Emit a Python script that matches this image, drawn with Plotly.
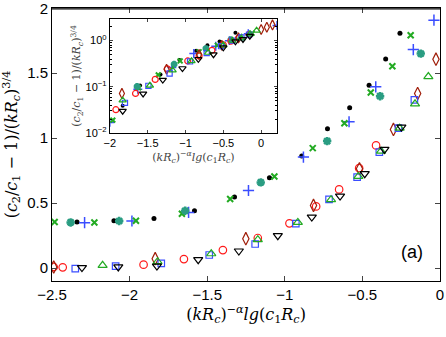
import plotly.graph_objects as go

# ==== main panel: x = (kRc)^-alpha lg(c1 Rc), y = (c2/c1 - 1)/(kRc)^(3/4) ====
dot_x = [-2.339, -2.101, -1.843, -1.582, -1.324, -1.099, -0.891, -0.725, -0.582, -0.457, -0.350, -0.258]
dot_y = [0.354, 0.364, 0.382, 0.441, 0.546, 0.695, 0.862, 1.072, 1.233, 1.408, 1.610, 1.808]

plus_x = [-2.290, -1.985, -1.620, -1.234, -0.880, -0.586, -0.414, -0.172, -0.039]
plus_y = [0.349, 0.362, 0.428, 0.597, 0.854, 1.126, 1.395, 1.682, 1.908]

cross_x = [-2.483, -2.227, -1.959, -1.663, -1.352, -1.067, -0.820, -0.616, -0.446, -0.307, -0.189]
cross_y = [0.354, 0.351, 0.364, 0.418, 0.531, 0.705, 0.923, 1.115, 1.351, 1.554, 1.792]

star_x = [-2.380, -2.067, -1.642, -1.155, -0.727, -0.386, -0.124]
star_y = [0.351, 0.362, 0.441, 0.659, 0.977, 1.323, 1.651]

circ_x = [-2.489, -2.431, -1.910, -1.650, -1.399, -1.174, -0.970, -0.798, -0.650, -0.521, -0.412]
circ_y = [0.008, 0.005, 0.026, 0.069, 0.138, 0.231, 0.344, 0.474, 0.605, 0.769, 0.944]

diam_x = [-2.489, -1.835, -1.251, -0.815, -0.519, -0.300, -0.144, -0.026]
diam_y = [0.008, 0.072, 0.226, 0.482, 0.764, 1.067, 1.344, 1.608]

sq_x = [-2.350, -2.090, -1.796, -1.487, -1.191, -0.929, -0.715, -0.534, -0.391, -0.268, -0.165]
sq_y = [-0.005, 0.015, 0.036, 0.100, 0.185, 0.341, 0.528, 0.700, 0.892, 1.077, 1.295]

tri_x = [-2.174, -1.820, -1.474, -1.174, -0.916, -0.702, -0.526, -0.380, -0.260, -0.161, -0.075]
tri_y = [0.021, 0.049, 0.110, 0.218, 0.351, 0.526, 0.705, 0.900, 1.077, 1.264, 1.474]

dtri_x = [-2.307, -2.073, -1.824, -1.558, -1.296, -1.045, -0.826, -0.644, -0.485, -0.358, -0.249]
dtri_y = [0.003, 0.008, 0.015, 0.064, 0.131, 0.249, 0.392, 0.554, 0.726, 0.913, 1.085]

# ==== inset (log y) ====
in_dot_x = [-1.83, -1.60, -1.33, -1.08, -0.86, -0.71, -0.55, -0.34, -0.18]
in_dot_y = [0.039, 0.107, 0.186, 0.380, 0.603, 0.794, 0.955, 1.479, 1.413]

in_plus_x = [-2.00, -1.63, -1.18, -0.89, -0.60, -0.42, -0.17, 0.21]
in_plus_y = [0.017, 0.089, 0.263, 0.525, 0.759, 1.000, 1.413, 2.138]

in_cross_x = [-1.96, -1.62, -1.36, -1.07, -0.82, -0.58, -0.28, -0.12]
in_cross_y = [0.019, 0.095, 0.182, 0.363, 0.575, 0.794, 1.230, 1.445]

in_star_x = [-1.64, -1.15, -0.73, -0.40, -0.15]
in_star_y = [0.102, 0.309, 0.676, 1.047, 1.380]

in_circ_x = [-1.92, -1.66, -1.40, -1.24, -0.97, -0.82, -0.65, -0.50, -0.40, -0.30, -0.16]
in_circ_y = [0.032, 0.072, 0.145, 0.245, 0.363, 0.468, 0.617, 0.813, 0.977, 1.122, 1.349]

in_diam_x = [-1.84, -1.25, -0.82, -0.52, -0.30, 0.00, 0.075, 0.15]
in_diam_y = [0.072, 0.240, 0.501, 0.794, 1.148, 1.738, 1.950, 2.188]

in_sq_x = [-1.80, -1.49, -1.21, -0.94, -0.72, -0.53, -0.38, -0.26, -0.16]
in_sq_y = [0.045, 0.105, 0.195, 0.355, 0.537, 0.759, 1.000, 1.175, 1.349]

in_tri_x = [-1.83, -1.47, -1.17, -0.92, -0.70, -0.50, -0.38, -0.26, -0.15, -0.06]
in_tri_y = [0.051, 0.107, 0.229, 0.363, 0.550, 0.794, 1.000, 1.122, 1.380, 1.660]

in_dtri_x = [-1.83, -1.56, -1.30, -1.04, -0.83, -0.63, -0.50, -0.34, -0.24, -0.15]
in_dtri_y = [0.030, 0.071, 0.141, 0.251, 0.398, 0.501, 0.708, 0.955, 1.072, 1.259]

RED = "#ff1a1a"
BROWN = "#a01e0a"
BLUE = "#3a4dff"
GREEN = "#22aa22"
TEAL = "#2a9d82"
BLACK = "#000000"

styles = [
    ("dot", dot_x, dot_y, in_dot_x, in_dot_y, "circle", BLACK, 5, 0),
    ("plus", plus_x, plus_y, in_plus_x, in_plus_y, "cross-thin-open", BLUE, 8, 1.5),
    ("cross", cross_x, cross_y, in_cross_x, in_cross_y, "x-thin-open", GREEN, 6, 2),
    ("star", star_x, star_y, in_star_x, in_star_y, "asterisk-open", TEAL, 7, 2.5),
    ("circ", circ_x, circ_y, in_circ_x, in_circ_y, "circle-open", RED, 7.5, 1.2),
    ("diam", diam_x, diam_y, in_diam_x, in_diam_y, "diamond-tall-open", BROWN, 9, 1.2),
    ("sq", sq_x, sq_y, in_sq_x, in_sq_y, "square-open", BLUE, 6.5, 1.2),
    ("tri", tri_x, tri_y, in_tri_x, in_tri_y, "triangle-up-open", GREEN, 8, 1.2),
    ("dtri", dtri_x, dtri_y, in_dtri_x, in_dtri_y, "triangle-down-open", BLACK, 8, 1.2),
]

fig = go.Figure()

for name, x, y, ix, iy, sym, col, size, lw in styles:
    fig.add_trace(go.Scatter(
        x=x, y=y, mode="markers", name=name, showlegend=False,
        marker=dict(symbol=sym, color=col, size=size, line=dict(color=col, width=lw)),
        xaxis="x", yaxis="y"))
    fig.add_trace(go.Scatter(
        x=ix, y=iy, mode="markers", name=name, showlegend=False,
        marker=dict(symbol=sym, color=col, size=size * 0.8, line=dict(color=col, width=lw)),
        xaxis="x2", yaxis="y2"))

axis_common = dict(showline=True, linecolor="black", linewidth=1, mirror="ticks",
                   ticks="inside", showgrid=False, zeroline=False, automargin=False,
                   ticklabeloverflow="allow")

xlabel = "(<i>kR<sub>c</sub></i>)<sup>\u2212<i>\u03b1</i></sup><i>lg</i>(<i>c</i><sub>1</sub><i>R<sub>c</sub></i>)"
ylabel = "(<i>c</i><sub>2</sub>/<i>c</i><sub>1</sub> \u2212 1)/(<i>kR<sub>c</sub></i>)<sup>3/4</sup>"

fig.update_layout(
    width=446, height=337,
    margin=dict(l=52, r=6, t=8, b=56),
    paper_bgcolor="white", plot_bgcolor="white",
    font=dict(family="Liberation Sans, Arial, sans-serif", color="black"),
    xaxis=dict(domain=[0, 1], range=[-2.5, 0], tickvals=[-2.5, -2, -1.5, -1, -0.5, 0],
               ticktext=["\u22122.5", "\u22122", "\u22121.5", "\u22121", "\u22120.5", "0"],
               ticklen=5, tickfont=dict(size=15),
               title=dict(text=xlabel, font=dict(family="DejaVu Serif, serif", size=16), standoff=3),
               **axis_common),
    yaxis=dict(domain=[0, 1], range=[-0.1, 2.002], tickvals=[0, 0.5, 1, 1.5, 2],
               ticktext=["0", "0.5", "1", "1.5", "2"], ticklen=5, tickfont=dict(size=15),
               title=dict(text=ylabel, font=dict(family="DejaVu Serif, serif", size=16), standoff=6),
               **axis_common),
    xaxis2=dict(domain=[0.149, 0.580], anchor="y2", range=[-2, 0.21],
                tickvals=[-2, -1.5, -1, -0.5, 0],
                ticktext=["\u22122", "\u22121.5", "\u22121", "\u22120.5", "0"],
                ticklen=3, tickfont=dict(size=11),
                title=dict(text=xlabel, font=dict(family="DejaVu Serif, serif", size=11, color="#444"), standoff=2),
                **axis_common),
    yaxis2=dict(domain=[0.542, 0.960], anchor="x2", type="log", range=[-2, 0.47],
                tickvals=[0.01, 0.1, 1],
                ticktext=["10<sup>\u22122</sup>", "10<sup>\u22121</sup>", "10<sup>0</sup>"],
                ticklen=3, tickfont=dict(size=11),
                minor=dict(ticks="inside", ticklen=2, tickcolor="black",
                           tickvals=[0.02, 0.03, 0.04, 0.05, 0.06, 0.07, 0.08, 0.09,
                                     0.2, 0.3, 0.4, 0.5, 0.6, 0.7, 0.8, 0.9, 2]),
                title=dict(text=ylabel, font=dict(family="DejaVu Serif, serif", size=11, color="#444"), standoff=2),
                **axis_common),
    shapes=[
        dict(type="rect", xref="paper", yref="paper", x0=0.149, x1=0.580, y0=0.542, y1=0.960,
             fillcolor="white", line=dict(width=0), layer="below"),
        # top edge of the main panel frame (paper shapes are not clipped)
        dict(type="line", xref="paper", yref="paper", x0=0, x1=1, y0=0.997, y1=0.997,
             line=dict(color="black", width=1.2), layer="above"),
    ],
    annotations=[dict(text="(a)", xref="paper", yref="paper", x=0.928, y=0.106,
                      xanchor="center", yanchor="middle",
                      showarrow=False, font=dict(size=18))],
)

# page body has a default 8px margin; drop it so the figure sits at the window origin
fig.write_html("out.html", config={"displayModeBar": False},
               post_script="document.body.style.margin='0';")
